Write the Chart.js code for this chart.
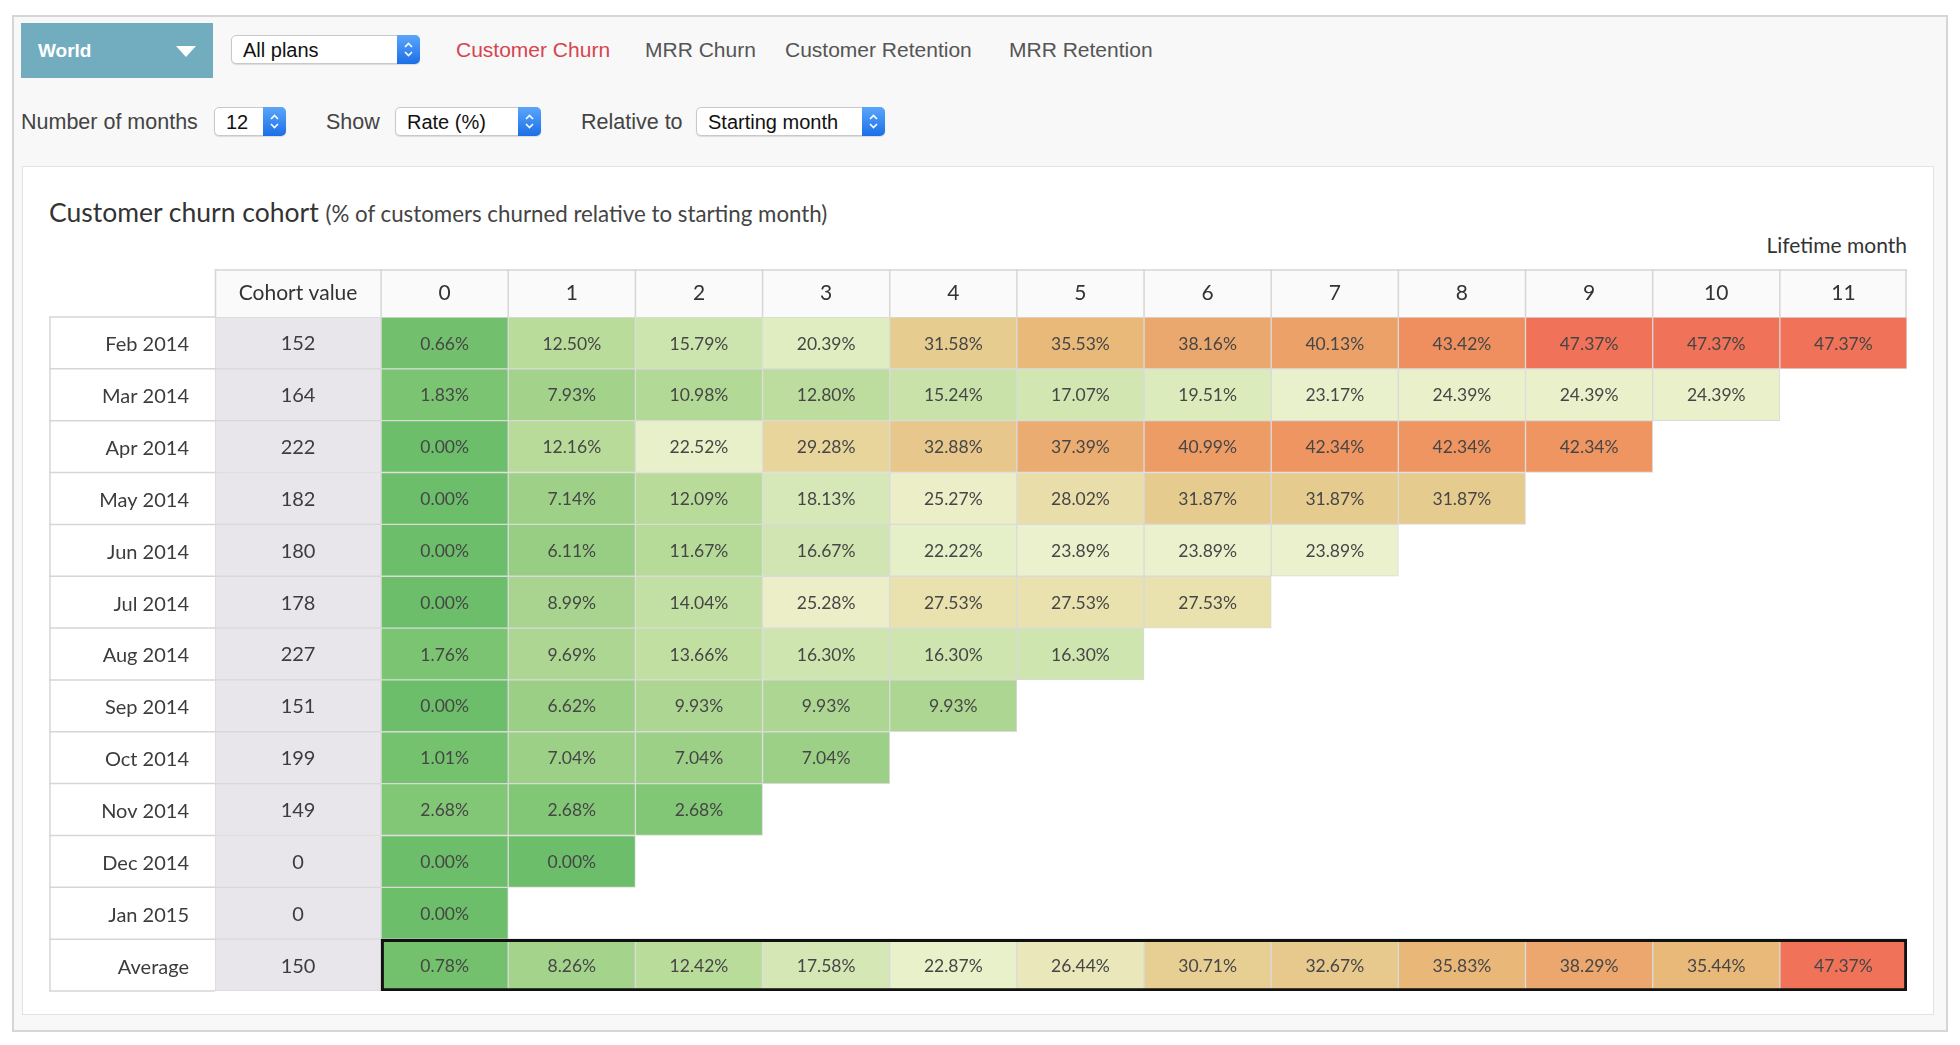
<!DOCTYPE html>
<html><head><meta charset="utf-8">
<script src="https://cdn.jsdelivr.net/npm/chart.js@4.4.1/dist/chart.umd.min.js"></script>
<style>
html,body{margin:0;padding:0;background:#fff;width:1960px;height:1045px;overflow:hidden;font-family:"Liberation Sans",Arial,sans-serif;}
.abs{position:absolute;white-space:nowrap;}
#outer{left:12px;top:15px;width:1932px;height:1013px;background:#f8f8f8;border:2px solid #d6d6d6;}
#world{left:21px;top:23px;width:192px;height:55px;background:#72adbf;}
#world span{position:absolute;left:17px;top:0;line-height:55px;color:#fff;font-size:19px;font-weight:bold;}
#world i{position:absolute;left:155px;top:23px;width:0;height:0;border-left:10px solid transparent;border-right:10px solid transparent;border-top:11px solid #fff;}
.sel{height:29px;background:#fff;border:1px solid #c9c9c9;border-radius:5px;box-shadow:0 1px 1px rgba(0,0,0,.12);box-sizing:border-box;}
.sel span{position:absolute;left:11px;top:0;line-height:28px;font-size:20px;color:#111;}
.sel b{position:absolute;right:-1px;top:-1px;width:23px;height:29px;border-radius:0 5px 5px 0;background:linear-gradient(#5ba6fb,#1b6fe6);}
.sel b svg{position:absolute;left:6px;top:6px;}
.lbl{font-size:21.5px;color:#444;height:28px;line-height:28px;}
.tab{font-size:21px;color:#555;height:28px;line-height:28px;}
#inner{left:22px;top:166px;width:1910px;height:847px;background:#fff;border:1px solid #e3e3e3;}
#title{left:49px;top:196px;height:32px;line-height:32px;font-family:Lato,sans-serif;font-size:26.5px;color:#333;}
#title small{font-size:22.3px;color:#444;}
#lifetime{right:53px;top:231px;height:28px;line-height:28px;font-family:Lato,sans-serif;font-size:21px;color:#333;}
#chartBox{left:49px;top:269px;width:1858px;height:723px;}
</style></head>
<body>
<div id="outer" class="abs"></div>
<div id="world" class="abs"><span>World</span><i></i></div>
<div class="abs sel" style="left:231px;top:35px;width:189px;"><span>All plans</span><b><svg width="11" height="17" viewBox="0 0 11 17"><path d="M2 6 L5.5 2.5 L9 6 M2 11 L5.5 14.5 L9 11" stroke="#fff" stroke-width="1.6" fill="none"/></svg></b></div>
<div class="abs tab" style="left:456px;top:36px;color:#d6454f;">Customer Churn</div>
<div class="abs tab" style="left:645px;top:36px;">MRR Churn</div>
<div class="abs tab" style="left:785px;top:36px;">Customer Retention</div>
<div class="abs tab" style="left:1009px;top:36px;">MRR Retention</div>
<div class="abs lbl" style="left:21px;top:108px;">Number of months</div>
<div class="abs sel" style="left:214px;top:107px;width:72px;"><span>12</span><b><svg width="11" height="17" viewBox="0 0 11 17"><path d="M2 6 L5.5 2.5 L9 6 M2 11 L5.5 14.5 L9 11" stroke="#fff" stroke-width="1.6" fill="none"/></svg></b></div>
<div class="abs lbl" style="left:326px;top:108px;">Show</div>
<div class="abs sel" style="left:395px;top:107px;width:146px;"><span>Rate (%)</span><b><svg width="11" height="17" viewBox="0 0 11 17"><path d="M2 6 L5.5 2.5 L9 6 M2 11 L5.5 14.5 L9 11" stroke="#fff" stroke-width="1.6" fill="none"/></svg></b></div>
<div class="abs lbl" style="left:581px;top:108px;">Relative to</div>
<div class="abs sel" style="left:696px;top:107px;width:189px;"><span>Starting month</span><b><svg width="11" height="17" viewBox="0 0 11 17"><path d="M2 6 L5.5 2.5 L9 6 M2 11 L5.5 14.5 L9 11" stroke="#fff" stroke-width="1.6" fill="none"/></svg></b></div>
<div id="inner" class="abs"></div>
<div id="title" class="abs">Customer churn cohort <small>(% of customers churned relative to starting month)</small></div>
<div id="lifetime" class="abs">Lifetime month</div>
<div id="chartBox" class="abs"><canvas id="c"></canvas></div>
<script>
// ---- data ----
const cohortMonths = ["Feb 2014","Mar 2014","Apr 2014","May 2014","Jun 2014","Jul 2014","Aug 2014","Sep 2014","Oct 2014","Nov 2014","Dec 2014","Jan 2015"];
const cohortValues = [152,164,222,182,180,178,227,151,199,149,0,0];
const lifetimeMonths = ["0","1","2","3","4","5","6","7","8","9","10","11"];
const feb2014 = [0.66,12.50,15.79,20.39,31.58,35.53,38.16,40.13,43.42,47.37,47.37,47.37];
const mar2014 = [1.83,7.93,10.98,12.80,15.24,17.07,19.51,23.17,24.39,24.39,24.39];
const apr2014 = [0.00,12.16,22.52,29.28,32.88,37.39,40.99,42.34,42.34,42.34];
const may2014 = [0.00,7.14,12.09,18.13,25.27,28.02,31.87,31.87,31.87];
const jun2014 = [0.00,6.11,11.67,16.67,22.22,23.89,23.89,23.89];
const jul2014 = [0.00,8.99,14.04,25.28,27.53,27.53,27.53];
const aug2014 = [1.76,9.69,13.66,16.30,16.30,16.30];
const sep2014 = [0.00,6.62,9.93,9.93,9.93];
const oct2014 = [1.01,7.04,7.04,7.04];
const nov2014 = [2.68,2.68,2.68];
const dec2014 = [0.00,0.00];
const jan2015 = [0.00];
const averageLabel = "Average";
const averageCohortValue = 150;
const averageRates = [0.78,8.26,12.42,17.58,22.87,26.44,30.71,32.67,35.83,38.29,35.44,47.37];
const cohortHeader = "Cohort value";

// ---- styling helpers ----
const colorStops = [
  [0,[108,190,106]],[3,[133,200,119]],[8,[163,210,139]],[12.5,[186,220,155]],
  [16,[205,228,174]],[20,[222,236,190]],[23.5,[234,242,205]],[25.5,[235,238,198]],
  [27.5,[233,226,174]],[29.3,[232,213,155]],[31.5,[230,204,143]],[33,[231,199,140]],
  [35.5,[233,185,122]],[38,[235,168,110]],[40,[236,162,106]],[42.5,[239,148,96]],[47.37,[240,114,88]]
];
function colorFor(v){
  if (v <= colorStops[0][0]) return 'rgb('+colorStops[0][1].join(',')+')';
  for (let k=1;k<colorStops.length;k++){
    const [v1,c1]=colorStops[k];
    if (v <= v1){
      const [v0,c0]=colorStops[k-1];
      const t=(v-v0)/(v1-v0);
      return 'rgb('+c0.map((c,i)=>Math.round(c+(c1[i]-c)*t)).join(',')+')';
    }
  }
  return 'rgb('+colorStops[colorStops.length-1][1].join(',')+')';
}

const rowSeries = [feb2014,mar2014,apr2014,may2014,jun2014,jul2014,aug2014,sep2014,oct2014,nov2014,dec2014,jan2015,averageRates];
const rowLabels = cohortMonths.concat([averageLabel]);
const rowCohort = cohortValues.concat([averageCohortValue]);
const nCols = lifetimeMonths.length;
const cohortWidth = 1.306; // cohort column width relative to a month column
const xMin = -cohortWidth;

const datasets = [];
datasets.push({
  data: rowCohort.map(()=>[xMin,0]),
  backgroundColor:'#e8e6ea', borderColor:'#d8d8d8', borderWidth:1, borderSkipped:false,
  texts: rowCohort.map(String), textFont:'400 20px Lato', textColor:'#3c3c3c', order:1
});
for (let j=0;j<nCols;j++){
  datasets.push({
    data: rowSeries.map(r => r[j]!==undefined ? [j,j+1] : null),
    backgroundColor: rowSeries.map(r => r[j]!==undefined ? colorFor(r[j]) : 'rgba(0,0,0,0)'),
    borderColor:'#dadada', borderWidth:1, borderSkipped:false,
    texts: rowSeries.map(r => r[j]!==undefined ? r[j].toFixed(2)+'%' : null),
    textFont:'400 17.5px Lato', textColor:'#464646', order:1
  });
}
datasets.push({
  data: rowLabels.map((l,i)=> i===rowLabels.length-1 ? [0,nCols] : null),
  backgroundColor:'rgba(0,0,0,0)', borderColor:'#111', borderWidth:2.5, borderSkipped:false, order:0
});

const headerLabels = [cohortHeader].concat(lifetimeMonths);

const cellText = {
  id:'cellText',
  afterDatasetsDraw(chart){
    const ctx=chart.ctx;
    chart.data.datasets.forEach((ds,di)=>{
      if(!ds.texts) return;
      const meta=chart.getDatasetMeta(di);
      meta.data.forEach((el,i)=>{
        const t=ds.texts[i]; if(t==null) return;
        const p=el.getCenterPoint();
        ctx.save(); ctx.font=ds.textFont; ctx.fillStyle=ds.textColor;
        ctx.textAlign='center'; ctx.textBaseline='middle';
        ctx.fillText(t,p.x,p.y+1); ctx.restore();
      });
    });
  }
};
const tableFrame = {
  id:'tableFrame',
  beforeDraw(chart){
    const {ctx,scales:{x}}=chart;
    const xl=x.getPixelForValue(x.min), xr=x.getPixelForValue(x.max);
    ctx.save(); ctx.fillStyle='#fafafa'; ctx.fillRect(xl,x.top,xr-xl,x.bottom-x.top); ctx.restore();
  },
  afterDraw(chart){
    const {ctx,scales:{x,y}}=chart;
    ctx.save(); ctx.strokeStyle='#d6d6d6'; ctx.lineWidth=1.5;
    const xl=x.getPixelForValue(x.min), xr=x.getPixelForValue(x.max);
    ctx.beginPath();
    ctx.moveTo(xl,x.top+1); ctx.lineTo(xr,x.top+1);
    const bounds=[x.min]; for(let j=0;j<=nCols;j++) bounds.push(j);
    bounds.forEach(b=>{ let px=x.getPixelForValue(b); if(b===x.max) px-=1; if(b===x.min) px+=0.5; ctx.moveTo(px,x.top); ctx.lineTo(px,x.bottom); });
    const n=rowLabels.length;
    const rowH=y.getPixelForValue(1)-y.getPixelForValue(0);
    for(let i=0;i<=n;i++){
      const py=y.getPixelForValue(0)-rowH/2+i*rowH;
      ctx.moveTo(y.left,py); ctx.lineTo(y.right,py);
    }
    ctx.moveTo(y.left+1,y.getPixelForValue(0)-rowH/2); ctx.lineTo(y.left+1,y.getPixelForValue(n-1)+rowH/2);
    ctx.stroke(); ctx.restore();
  }
};

new Chart(document.getElementById('c'),{
  type:'bar',
  data:{labels:rowLabels,datasets},
  options:{
    indexAxis:'y', responsive:true, maintainAspectRatio:false, animation:false,
    layout:{padding:{top:0,right:0,bottom:1,left:0}},
    datasets:{bar:{grouped:false,categoryPercentage:1,barPercentage:1}},
    plugins:{legend:{display:false},tooltip:{enabled:false}},
    scales:{
      x:{type:'linear',position:'top',min:xMin,max:nCols,
        grid:{display:false},border:{display:false},
        afterBuildTicks(s){ s.ticks=[{value:xMin/2}].concat(lifetimeMonths.map((m,j)=>({value:j+0.5}))); },
        afterFit(s){ s.height=48; s.paddingLeft=0; s.paddingRight=0; },
        ticks:{autoSkip:false,maxRotation:0,minRotation:0,padding:3,color:'#333',font:{family:'Lato',size:21},
          callback:(v,i)=>headerLabels[i]}
      },
      y:{type:'category',position:'left',offset:true,
        grid:{display:false,drawTicks:false},border:{display:false},
        afterFit(s){ s.width=166; s.paddingTop=0; s.paddingBottom=0; },
        ticks:{autoSkip:false,padding:26,labelOffset:2,color:'#3c3c3c',font:{family:'Lato',size:20}}
      }
    }
  },
  plugins:[tableFrame,cellText]
});
</script>
</body></html>
